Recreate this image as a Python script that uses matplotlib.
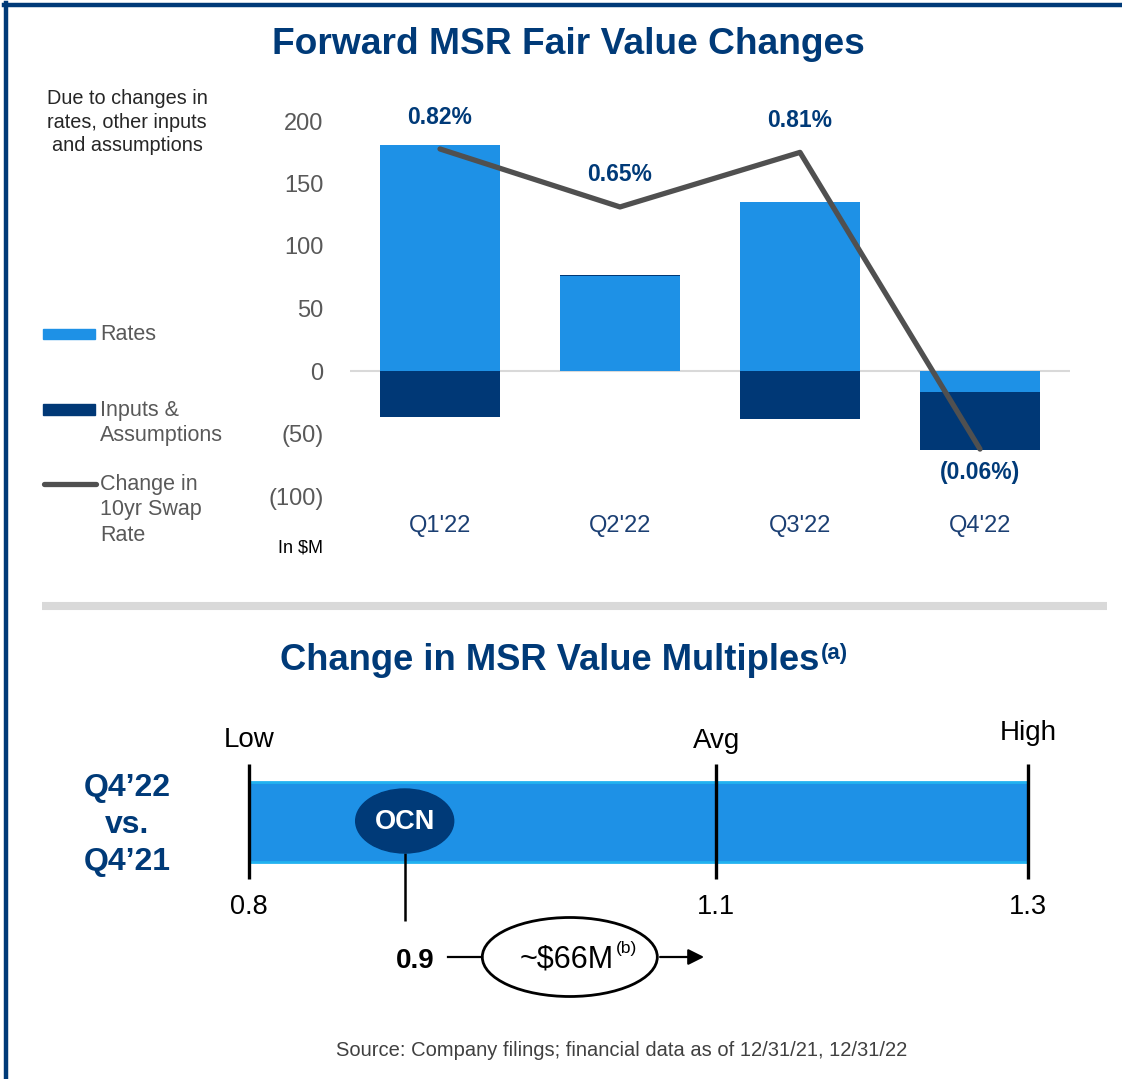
import matplotlib
matplotlib.use("Agg")
import matplotlib.pyplot as plt
from matplotlib.patches import Ellipse, Rectangle
from matplotlib.lines import Line2D

plt.rcParams['font.family'] = ['Liberation Sans', 'DejaVu Sans']

# ---------------- data ----------------
quarters = ["Q1'22", "Q2'22", "Q3'22", "Q4'22"]
rates = [181, 76, 135, -17]
inputs = [-37, 1, -38, -46]
swap_change = [0.82, 0.65, 0.81, -0.06]
swap_labels = ["0.82%", "0.65%", "0.81%", "(0.06%)"]
y_ticks = [-100, -50, 0, 50, 100, 150, 200]

range_points = [0.8, 1.1, 1.3]
range_names = ["Low", "Avg", "High"]
ocn_value = 0.9
ocn_impact = "~$66M"
period_label = "Q4’22\nvs.\nQ4’21"

# ---------------- style ----------------
W, H = 1122, 1079
NAVY = '#003A78'
LIGHT = '#1E91E6'
DARK = '#003876'
GREY_TXT = '#595959'
LINE_C = '#505050'

fig = plt.figure(figsize=(W / 100, H / 100), dpi=100)


def fx(x):
    return x / W


def fy(y):
    return 1 - y / H


# border (top and left)
fig.add_artist(Line2D([fx(4), fx(1122)], [fy(5), fy(5)], color=NAVY, lw=3.2))
fig.add_artist(Line2D([fx(6), fx(6)], [fy(3), fy(1079)], color=NAVY, lw=3.2))

# titles
fig.text(fx(568), fy(45), "Forward MSR Fair Value Changes", ha='center', va='center',
         fontsize=26.7, fontweight='bold', color=NAVY)
fig.text(fx(550), fy(660), "Change in MSR Value Multiples", ha='center', va='center',
         fontsize=26.2, fontweight='bold', color=NAVY)
fig.text(fx(821), fy(653), "(a)", ha='left', va='center',
         fontsize=16, fontweight='bold', color=NAVY)

# separator
fig.add_artist(Line2D([fx(42), fx(1107)], [fy(606), fy(606)], color='#D9D9D9', lw=5.8,
                      solid_capstyle='butt'))

# ---------------- top chart ----------------
ax = fig.add_axes([fx(350), fy(496), fx(720), 375 / H])
x = list(range(len(quarters)))
ax.bar(x, rates, width=0.667, color=LIGHT, zorder=2)
inp_bottom = [r if (r >= 0) == (i >= 0) else 0 for r, i in zip(rates, inputs)]
ax.bar(x, inputs, bottom=inp_bottom, width=0.667, color=DARK, zorder=2)
ax.axhline(0, color='#D9D9D9', lw=1.5, zorder=1)
ax.set_xlim(-0.5, len(quarters) - 0.5)
ax.set_ylim(-100, 200)
ax.set_yticks(y_ticks)
ax.set_yticklabels([f"({abs(v)})" if v < 0 else str(v) for v in y_ticks])
ax.set_xticks(x)
ax.set_xticklabels(quarters)
ax.tick_params(axis='y', length=0, pad=19, labelsize=17, labelcolor=GREY_TXT)
ax.tick_params(axis='x', length=0, pad=14, labelsize=17, labelcolor='#1B3F73')
for s in ax.spines.values():
    s.set_visible(False)

ax2 = ax.twinx()
ax2.set_ylim(-0.1976, 0.902)
ax2.plot(x, swap_change, color=LINE_C, lw=3.8, solid_capstyle='round', zorder=3)
for xi, v, lab in zip(x, swap_change, swap_labels):
    off = 23 if v >= 0 else -17
    ax2.annotate(lab, (xi, v), xytext=(0, off), textcoords='offset points',
                 ha='center', va='center', fontsize=16.5, fontweight='bold', color=NAVY)
ax2.set_yticks([])
for s in ax2.spines.values():
    s.set_visible(False)

# left notes & legend
fig.text(fx(127), fy(122), "Due to changes in\nrates, other inputs\nand assumptions",
         ha='center', va='center', fontsize=14.3, color='#262626', linespacing=1.33)
fig.add_artist(Rectangle((fx(43), fy(339)), fx(52), 10 / H, color=LIGHT))
fig.text(fx(100), fy(334), "Rates", ha='left', va='center', fontsize=15.5, color=GREY_TXT)
fig.add_artist(Rectangle((fx(43), fy(415)), fx(52), 11 / H, color=DARK))
fig.text(fx(100), fy(423), "Inputs &\nAssumptions", ha='left', va='center',
         fontsize=15.5, color=GREY_TXT, linespacing=1.3)
fig.add_artist(Line2D([fx(44), fx(96)], [fy(484), fy(484)], color=LINE_C, lw=3.8,
                      solid_capstyle='round'))
fig.text(fx(100), fy(510), "Change in\n10yr Swap\nRate", ha='left', va='center',
         fontsize=15.5, color=GREY_TXT, linespacing=1.3)
fig.text(fx(300), fy(548), "In $M", ha='center', va='center', fontsize=13, color='black')

# ---------------- bottom schematic ----------------
bx = fig.add_axes([0, fy(1000), 1, 300 / H])
bx.set_xlim(0.6402, 1.3605)
bx.set_ylim(1000, 700)
bx.axis('off')

fig.text(fx(127), fy(825), period_label, ha='center', va='center', fontsize=23,
         fontweight='bold', color=NAVY, linespacing=1.3)

low, avg, high = range_points
bx.barh(822, high - low, left=low, height=80, color=LIGHT, edgecolor='#22B2F0', lw=2, zorder=1)
bx.vlines(range_points, 764, 879, color='black', lw=2.4, zorder=3)
name_y = [740, 741, 733]
for v, n, ny in zip(range_points, range_names, name_y):
    bx.text(v, ny, n, ha='center', va='center', fontsize=20, color='black')
    bx.text(v, 907, str(v), ha='center', va='center', fontsize=19.5, color='black')

bx.add_patch(Ellipse((ocn_value, 821), 98 / 1557.6, 64, color=NAVY, zorder=4))
bx.text(ocn_value, 822, "OCN", ha='center', va='center', fontsize=19.5, fontweight='bold',
        color='white', zorder=5)
bx.vlines(ocn_value, 853, 921, color='black', lw=1.8, zorder=3)

bx.text(ocn_value + 0.007, 961, f"{ocn_value}", ha='center', va='center', fontsize=20,
        fontweight='bold', color='black')
ell_c = (ocn_value + avg) / 2 + 0.006
ell_w = 175 / 1557.6
bx.plot([ell_c - ell_w / 2 - 0.022, ell_c - ell_w / 2], [957, 957], color='black', lw=1.6)
bx.add_patch(Ellipse((ell_c, 957), ell_w, 79, facecolor='white', edgecolor='black', lw=2))
bx.text(ell_c - 0.002, 959, ocn_impact, ha='center', va='center', fontsize=22, color='black')
bx.text(ell_c + 0.0298, 948, "(b)", ha='left', va='center', fontsize=12.5, color='black')
bx.annotate("", xy=(avg - 0.006, 957), xytext=(ell_c + ell_w / 2, 957),
            arrowprops=dict(arrowstyle='-|>', color='black', lw=1.6, mutation_scale=24))

fig.text(fx(622), fy(1050), "Source: Company filings; financial data as of 12/31/21, 12/31/22",
         ha='center', va='center', fontsize=14.5, color='#404040')

fig.savefig("out.png", dpi=100)
